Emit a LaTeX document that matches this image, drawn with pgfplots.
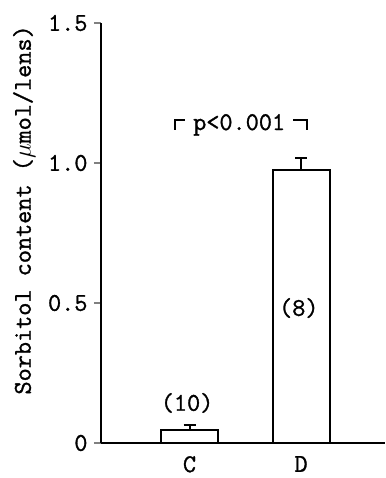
\documentclass[border=0pt]{standalone}
\usepackage{fontspec}
\setmainfont{Latin Modern Mono}[BoldFont={Latin Modern Mono}, BoldFeatures={FakeBold=1.2}]
\usepackage{pgfplots}
\pgfplotsset{compat=1.18}
\newcommand{\lf}{\fontsize{25.5}{29}\selectfont\bfseries}
\begin{document}
\begin{tikzpicture}[x=1pt,y=1pt]
\useasboundingbox (0,0) rectangle (385,478);
\begin{axis}[
  at={(101pt,35pt)}, anchor=origin,
  scale only axis, width=284pt, height=420pt,
  xmin=0.206, xmax=2.753, ymin=0, ymax=1.5,
  axis x line=bottom, axis y line=left,
  axis line style={-, line width=2pt},
  clip=false,
  xtick={1,2}, xticklabels={C,D},
  major x tick style={draw=none},
  ytick={0,0.5,1.0,1.5}, yticklabels={0,0.5,1.0,1.5},
  major tick length=7pt,
  ytick style={line width=2pt},
  tick align=outside,
  /pgf/number format/assume math mode=true,
  ticklabel style={font=\lf},
  yticklabel style={xshift=-3pt},
  xticklabel style={inner sep=0pt, text depth=0pt, yshift=-6pt},
  ylabel={Sorbitol content ($\mu$mol/lens)},
  ylabel style={font=\lf, at={(axis description cs:-0.27,0.555)}, anchor=center, rotate=0},
  ybar, bar width=57pt,
]
\addplot[draw=black, fill=white, line width=2pt,
  error bars/.cd, y dir=plus, y explicit,
  error bar style={line width=2pt}, error mark options={rotate=90, mark size=6pt, line width=2pt}]
  coordinates {(1,0.046) +- (0,0.018) (2,0.975) +- (0,0.043)};
\node[font=\lf] at (axis cs:0.978,0.143) {(10)};
\node[font=\lf] at (axis cs:1.98,0.482) {(8)};
\node[font=\lf] at (axis cs:1.445,1.136) {p<0.001};
\draw[line width=2pt] (axis cs:0.87,1.118) -- (axis cs:0.87,1.154) -- (axis cs:0.96,1.154);
\draw[line width=2pt] (axis cs:1.93,1.154) -- (axis cs:2.054,1.154) -- (axis cs:2.054,1.118);
\end{axis}
\end{tikzpicture}
\end{document}
